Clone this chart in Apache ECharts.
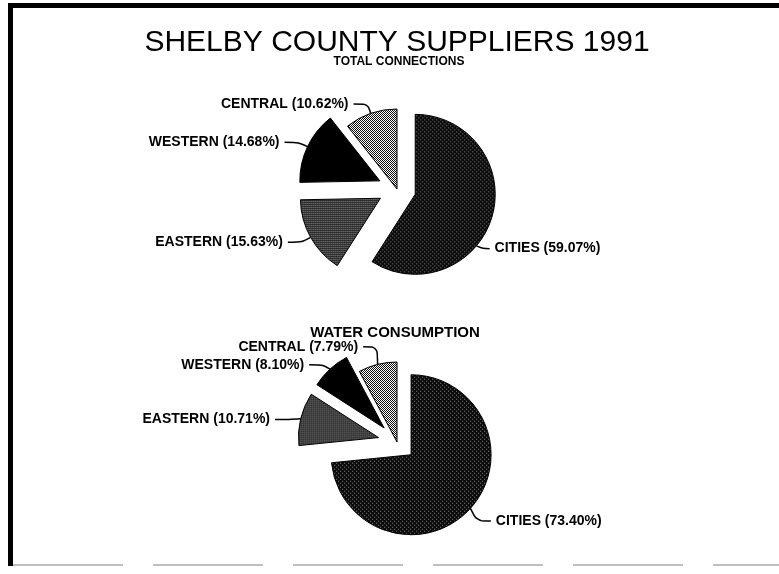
<!DOCTYPE html>
<html>
<head>
<meta charset="utf-8">
<script src="https://cdn.jsdelivr.net/npm/echarts@6/dist/echarts.min.js"></script>
<style>
  html, body { margin: 0; padding: 0; background: #fff; }
  #chart { width: 779px; height: 574px; }
</style>
</head>
<body>
<div id="chart"></div>
<script>
// 数据
var categories = ['CITIES', 'EASTERN', 'WESTERN', 'CENTRAL'];
var connectionsPct = [59.07, 15.63, 14.68, 10.62];
var consumptionPct = [73.40, 10.71, 8.10, 7.79];
var explodedNames = ['CITIES', 'EASTERN', 'WESTERN'];

// 网点图案 (模拟扫描的灰度)
function makePattern(size, fg, bg, cells) {
	var c = document.createElement('canvas');
	c.width = size; c.height = size;
	var ctx = c.getContext('2d');
	ctx.fillStyle = bg;
	ctx.fillRect(0, 0, size, size);
	ctx.fillStyle = fg;
	for (var i = 0; i < cells.length; i++) {
		ctx.fillRect(cells[i][0], cells[i][1], 1, 1);
	}
	return { image: c, repeat: 'repeat' };
}
var patCities = makePattern(4, '#8a8a8a', '#0a0a0a', [[0, 0], [2, 2]]);
var patEastern = makePattern(2, '#eee', '#0a0a0a', [[0, 0]]);
var patCentral = makePattern(2, '#111', '#fff', [[0, 0], [1, 1]]);
var fills = [patCities, patEastern, '#000', patCentral];

function buildData(values) {
	var out = [];
	for (var i = 0; i < categories.length; i++) {
		out.push({
			name : categories[i],
			value : values[i],
			selected : explodedNames.indexOf(categories[i]) >= 0,
			itemStyle : { color : fills[i] }
		});
	}
	return out;
}

// 标签微调 (原图手动摆放的标签), key = 系列-数据, [dx, dy, 是否移动弧上的起点]
var labelShift = {
	'0-0' : [-26, 29, true],
	'1-0' : [-1, 6],
	'1-1' : [-2, 3],
	'1-2' : [0, 3],
	'1-3' : [2, -8]
};

function pieSeries(values, cy) {
	return {
		type : 'pie',
		center : [397, cy],
		radius : 80,
		startAngle : 90,
		clockwise : true,
		selectedMode : 'multiple',
		selectedOffset : 19,
		avoidLabelOverlap : false,
		animation : false,
		emphasis : { disabled : true },
		itemStyle : { borderColor : '#000', borderWidth : 1 },
		label : {
			show : true,
			position : 'outside',
			color : '#000',
			fontFamily : 'Liberation Sans',
			fontWeight : 'bold',
			fontSize : 14,
			formatter : function(p) {
				return p.name + ' (' + p.value.toFixed(2) + '%)';
			}
		},
		labelLine : {
			show : true,
			length : 10,
			length2 : 14,
			smooth : 0.3,
			lineStyle : { color : '#000', width : 1.5 }
		},
		labelLayout : function(params) {
			var s = labelShift[params.seriesIndex + '-' + params.dataIndex];
			if (!s) return {};
			var pts = params.labelLinePoints;
			var res = { dx : s[0], dy : s[1] };
			if (pts && pts.length == 3) {
				var p2 = [pts[2][0] + s[0], pts[2][1] + s[1]];
				var p1 = [pts[1][0] + s[0], pts[1][1] + s[1]];
				var p0 = [pts[0][0], pts[0][1]];
				if (s[2]) {
					// 起点沿弧移动
					p0 = [pts[0][0] + s[0] * 0.6, pts[0][1] + s[1]];
					p1 = [(p0[0] + p2[0]) / 2, p2[1]];
				}
				res.labelLinePoints = [p0, p1, p2];
			}
			return res;
		},
		data : buildData(values)
	};
}

var option = {
	backgroundColor : '#fff',
	animation : false,
	title : [{
		text : 'SHELBY COUNTY SUPPLIERS 1991',
		left : 397,
		top : 28,
		padding : 0,
		textAlign : 'center',
		textStyle : { fontFamily : 'Liberation Sans', fontWeight : 'normal', fontSize : 30, color : '#000' }
	}, {
		text : 'TOTAL CONNECTIONS',
		left : 399,
		top : 56,
		padding : 0,
		textAlign : 'center',
		textStyle : { fontFamily : 'Liberation Sans', fontWeight : 'bold', fontSize : 12, color : '#000' }
	}, {
		text : 'WATER CONSUMPTION',
		left : 395,
		top : 325,
		padding : 0,
		textAlign : 'center',
		textStyle : { fontFamily : 'Liberation Sans', fontWeight : 'bold', fontSize : 15, color : '#000' }
	}],
	// 外框
	graphic : [
		{ type : 'rect', shape : { x : 8, y : 3, width : 771, height : 5 }, style : { fill : '#000' } },
		{ type : 'rect', shape : { x : 8, y : 3, width : 5, height : 563 }, style : { fill : '#000' } },
		{ type : 'line', shape : { x1 : 13, y1 : 565, x2 : 779, y2 : 565 },
			style : { stroke : '#aaa', lineWidth : 1.5, lineDash : [110, 30] } }
	],
	series : [pieSeries(connectionsPct, 189), pieSeries(consumptionPct, 442)]
};

var myChart = echarts.init(document.getElementById('chart'));
myChart.setOption(option);
</script>
</body>
</html>
